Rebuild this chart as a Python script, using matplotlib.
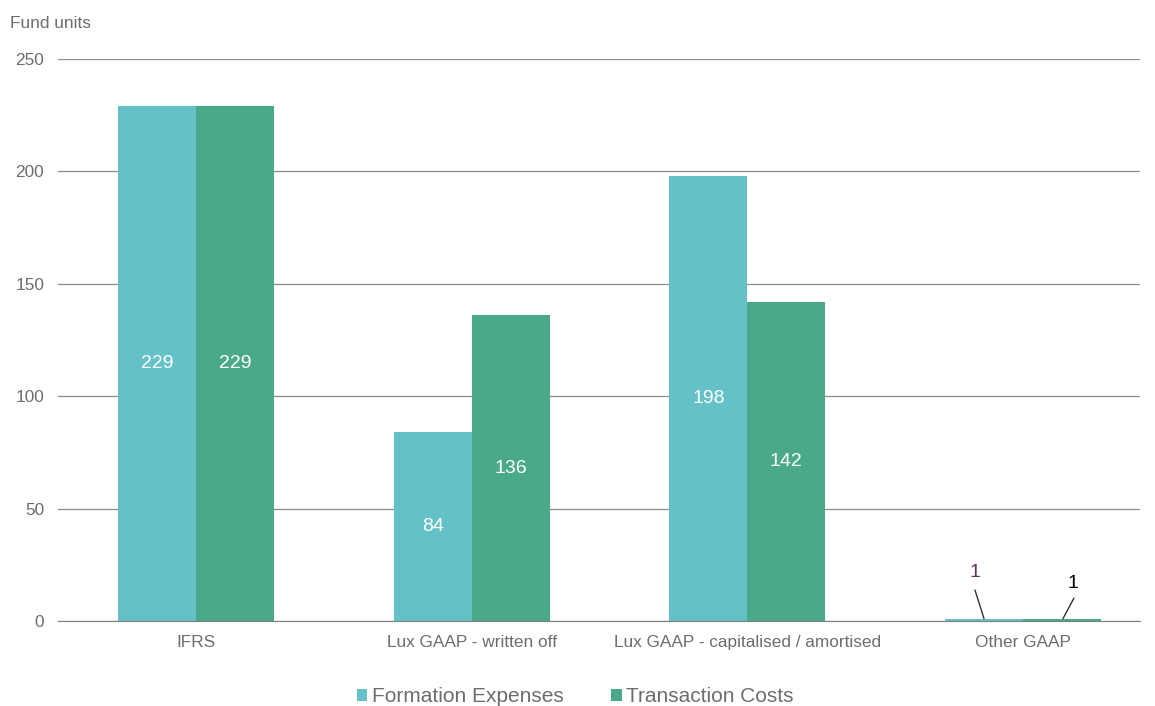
import matplotlib
matplotlib.use("Agg")
from matplotlib import pyplot as plt
import numpy as np

categories = ["IFRS", "Lux GAAP - written off", "Lux GAAP - capitalised / amortised", "Other GAAP"]
formation = [229, 84, 198, 1]
transaction = [229, 136, 142, 1]

plt.rcParams['font.family'] = ['Liberation Sans', 'DejaVu Sans']

c_form = '#64C1C8'
c_trans = '#4AA98A'
grey = '#7f7f7f'

fig = plt.figure(figsize=(11.55, 7.06), dpi=100)
ax = fig.add_axes([0.0502, 0.1204, 0.9368, 0.796])

xs = np.arange(len(categories))
w = 0.283
b1 = ax.bar(xs - w / 2, formation, w, color=c_form, label='Formation Expenses')
b2 = ax.bar(xs + w / 2, transaction, w, color=c_trans, label='Transaction Costs')

# labels inside the big bars
for i in range(3):
    ax.text(xs[i] - w / 2, formation[i] / 2, str(formation[i]), ha='center', va='center',
            color='white', fontsize=14)
    ax.text(xs[i] + w / 2, transaction[i] / 2, str(transaction[i]), ha='center', va='center',
            color='white', fontsize=14)

# tiny values: label above, with a leader line down to the bar
x1 = xs[3] - w / 2
ax.text(x1 - 0.033, 21.4, str(formation[3]), ha='center', va='center', color='#6b2f5e', fontsize=14)
ax.annotate('', xy=(x1, formation[3]), xytext=(x1 - 0.033, 13.8),
            arrowprops=dict(arrowstyle='-', color='#333333', lw=1, shrinkA=0, shrinkB=0))
x2 = xs[3] + w / 2
ax.text(x2 + 0.04, 16.9, str(transaction[3]), ha='center', va='center', color='black', fontsize=14)
ax.annotate('', xy=(x2 + 0.003, transaction[3]), xytext=(x2 + 0.043, 10.2),
            arrowprops=dict(arrowstyle='-', color='#333333', lw=1, shrinkA=0, shrinkB=0))

ax.set_xlim(-0.5, 3.424)
ax.set_ylim(0, 250)
ax.set_yticks([0, 50, 100, 150, 200, 250])
ax.set_xticks(xs)
ax.set_xticklabels(categories)
ax.yaxis.grid(True, color='#8c8c8c', lw=0.9)
ax.set_axisbelow(True)
for s in ['top', 'right', 'left']:
    ax.spines[s].set_visible(False)
ax.spines['bottom'].set_color(grey)
ax.tick_params(axis='both', length=0, colors='#595959', labelsize=12.4)
ax.tick_params(axis='x', pad=10)
ax.tick_params(axis='y', pad=10)
for t in ax.get_xticklabels() + ax.get_yticklabels():
    t.set_color('#6d6d6d')

fig.text(0.0087, 0.967, 'Fund units', fontsize=12.4, color='#6d6d6d', va='center')

leg = ax.legend(loc='center', bbox_to_anchor=(0.478, -0.135), ncol=2, frameon=False,
                fontsize=15, handlelength=0.5, handleheight=0.5, handletextpad=0.2,
                columnspacing=2.3)
for t in leg.get_texts():
    t.set_color('#6d6d6d')

fig.savefig('out.png', dpi=100)
